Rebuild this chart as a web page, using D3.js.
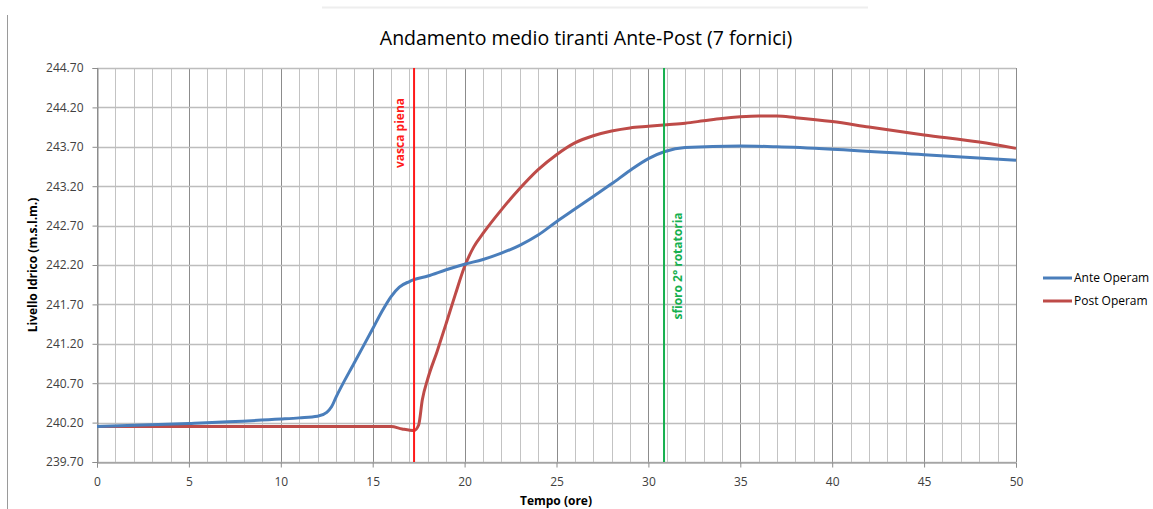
<!DOCTYPE html>
<html><head><meta charset="utf-8">
<script src="https://cdn.jsdelivr.net/npm/d3@7/dist/d3.min.js"></script>
<style>body{margin:0;background:#fff;font-family:"Open Sans","Liberation Sans",sans-serif}</style>
</head><body>
<svg id="c" width="1153" height="509"></svg>
<script>
const title = "Andamento medio tiranti Ante-Post (7 fornici)";
const xTicks = [0,5,10,15,20,25,30,35,40,45,50];
const yTicks = [239.70,240.20,240.70,241.20,241.70,242.20,242.70,243.20,243.70,244.20,244.70];
const anteT = [0,5,10,11,12,12.5,12.76,13,14,15,15.5,16,16.45,17,17.2,18,19,20,21,22,23,24,25,26,27,28,29,30,30.9,32,35,37,40,45,50];
const anteV = [240.15,240.19,240.245,240.26,240.28,240.33,240.40,240.52,240.96,241.39,241.61,241.80,241.92,241.99,242.01,242.06,242.14,242.21,242.27,242.35,242.45,242.58,242.75,242.91,243.07,243.23,243.40,243.55,243.64,243.69,243.71,243.70,243.67,243.60,243.53];
const postT = [0,5,10,15,16,16.6,17.25,17.5,17.7,18,18.5,19,19.5,20,20.5,21,22,23,24,25,26,27,28,29,30,31,32,33,34,35,36,37,38,40,42,45,48,50];
const postV = [240.15,240.15,240.15,240.15,240.15,240.12,240.10,240.17,240.49,240.76,241.10,241.46,241.83,242.18,242.43,242.60,242.90,243.17,243.41,243.60,243.75,243.84,243.90,243.94,243.96,243.98,244.00,244.03,244.06,244.08,244.09,244.09,244.07,244.02,243.95,243.85,243.76,243.68];
const seriesNames = ["Ante Operam","Post Operam"];
const markers = [{t:17.25,label:"vasca piena"},{t:30.85,label:"sfioro 2° rotatoria"}];

const svg = d3.select("#c");
const x = d3.scaleLinear().domain([0,50]).range([97,1016]);
const y = d3.scaleLinear().domain([239.7,244.7]).range([462,68]);

// frame artifacts
svg.append("line").attr("x1",7.5).attr("x2",7.5).attr("y1",15).attr("y2",509).attr("stroke","#9a9a9a");
svg.append("line").attr("x1",322).attr("x2",868).attr("y1",7.5).attr("y2",7.5).attr("stroke","#eeeeee").attr("stroke-width",2);

// grid
const g = svg.append("g");
g.selectAll(".vm").data(d3.range(0,51)).join("line")
  .attr("x1",d=>Math.round(x(d))+0.5).attr("x2",d=>Math.round(x(d))+0.5)
  .attr("y1",68).attr("y2",462)
  .attr("stroke",d=>d%5===0?"#8c8c8c":"#c3c3c3").attr("stroke-width",1);
g.selectAll(".hm").data(yTicks).join("line")
  .attr("x1",97).attr("x2",1016)
  .attr("y1",d=>Math.round(y(d))+0.5).attr("y2",d=>Math.round(y(d))+0.5)
  .attr("stroke","#bdbdbd").attr("stroke-width",1.3);

// axes
const ax = svg.append("g").attr("transform","translate(0,462.5)")
  .call(d3.axisBottom(x).tickValues(xTicks).tickSize(5).tickPadding(10).tickFormat(d3.format("d")));
const ay = svg.append("g").attr("transform","translate(97.5,0)")
  .call(d3.axisLeft(y).tickValues(yTicks).tickSize(5).tickPadding(9).tickFormat(d3.format(".2f")));
[ax,ay].forEach(a=>{
  a.select(".domain").attr("stroke","#8c8c8c");
  a.selectAll(".tick line").attr("stroke","#8c8c8c");
  a.selectAll("text").attr("fill","#404040").style("font-size","12px").style("font-family","'Open Sans','Liberation Sans',sans-serif");
});

// lines
const line = d3.line().x(d=>x(d[0])).y(d=>y(d[1])).curve(d3.curveMonotoneX);
const antePts = anteT.map((t,i)=>[t,anteV[i]]);
const postPts = postT.map((t,i)=>[t,postV[i]]);
const colors = ["#4a7ebb","#be4b48"];
svg.append("path").datum(postPts).attr("d",line).attr("fill","none").attr("stroke",colors[1]).attr("stroke-width",3).attr("stroke-linejoin","round");
svg.append("path").datum(antePts).attr("d",line).attr("fill","none").attr("stroke",colors[0]).attr("stroke-width",3).attr("stroke-linejoin","round");

// markers
const mcol = ["#ff1a1a","#17b04f"];
svg.append("line").attr("x1",x(markers[0].t)).attr("x2",x(markers[0].t)).attr("y1",68).attr("y2",462).attr("stroke",mcol[0]).attr("stroke-width",2);
svg.append("line").attr("x1",x(markers[1].t)).attr("x2",x(markers[1].t)).attr("y1",68).attr("y2",462).attr("stroke",mcol[1]).attr("stroke-width",2);
svg.append("text").attr("transform",`translate(${x(markers[0].t)-10},133) rotate(-90)`)
  .attr("text-anchor","middle").attr("fill",mcol[0]).style("font-weight","bold").style("font-size","12px").text(markers[0].label);
svg.append("text").attr("transform",`translate(${x(markers[1].t)+18},266) rotate(-90)`)
  .attr("text-anchor","middle").attr("fill",mcol[1]).style("font-weight","bold").style("font-size","12px").text(markers[1].label);

// titles
svg.append("text").attr("x",586).attr("y",45).attr("text-anchor","middle").attr("fill","#000")
  .style("font-size","19.5px").text(title);
svg.append("text").attr("x",556).attr("y",505).attr("text-anchor","middle").attr("fill","#000")
  .style("font-size","12px").style("font-weight","bold").text("Tempo (ore)");
svg.append("text").attr("transform","translate(37,265) rotate(-90)").attr("text-anchor","middle").attr("fill","#000")
  .style("font-size","12px").style("font-weight","bold").text("Livello Idrico (m.s.l.m.)");

// legend
const lg = svg.append("g");
seriesNames.forEach((n,i)=>{
  const yy = 278 + i*23;
  lg.append("line").attr("x1",1043).attr("x2",1072).attr("y1",yy).attr("y2",yy).attr("stroke",colors[i]).attr("stroke-width",3);
  lg.append("text").attr("x",1074).attr("y",yy+4).attr("fill","#000").style("font-size","12px").text(n);
});
</script>
</body></html>
